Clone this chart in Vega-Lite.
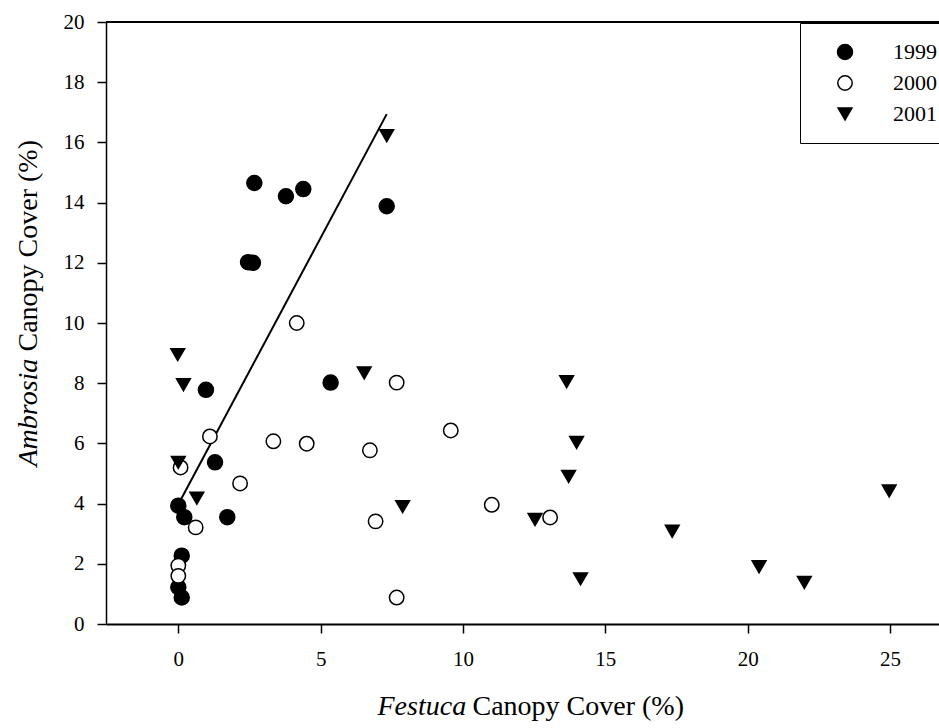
{
  "$schema": "https://vega.github.io/schema/vega-lite/v6.json",
  "width": 833,
  "height": 602,
  "autosize": {"type": "none"},
  "padding": {"left": 106, "top": 22, "right": 0, "bottom": 104},
  "background": "white",
  "config": {"view": {"stroke": null}, "font": "Liberation Serif"},
  "resolve": {"axis": {"x": "independent", "y": "independent"}},
  "layer": [
    {
      "data": {"values": [{"v": 20}]},
      "mark": {"type": "rule", "color": "black", "strokeWidth": 2},
      "encoding": {
        "y": {"field": "v", "type": "quantitative", "scale": {"domain": [0, 20], "nice": false}, "axis": null}
      }
    },
    {
      "data": {"values": [{"festuca": 0.1, "ambrosia": 4.15}, {"festuca": 7.32, "ambrosia": 16.94}]},
      "mark": {"type": "line", "color": "black", "strokeWidth": 2},
      "encoding": {
        "x": {"field": "festuca", "type": "quantitative", "scale": {"domain": [-2.54, 26.72], "nice": false, "zero": false},
          "axis": {"orient": "bottom", "labels": false, "ticks": false, "domain": false, "grid": false,
            "title": "Festuca", "titleFont": "Liberation Serif", "titleFontSize": 28, "titleFontWeight": "normal", "titleFontStyle": "italic", "titleColor": "black",
            "titleAlign": "left", "titleBaseline": "alphabetic", "titleX": 271, "titleY": 90}},
        "y": {"field": "ambrosia", "type": "quantitative", "scale": {"domain": [0, 20], "nice": false},
          "axis": {"orient": "left", "labels": false, "ticks": false, "domain": false, "grid": false,
            "title": "Ambrosia", "titleFont": "Liberation Serif", "titleFontSize": 28, "titleFontWeight": "normal", "titleFontStyle": "italic", "titleColor": "black",
            "titleAngle": -90, "titleAlign": "left", "titleBaseline": "alphabetic", "titleX": -70, "titleY": 444}}
      }
    },
    {
      "data": {"values": [
        {"year": "1999", "festuca": 2.67, "ambrosia": 14.65},
        {"year": "1999", "festuca": 3.78, "ambrosia": 14.21},
        {"year": "1999", "festuca": 4.39, "ambrosia": 14.45},
        {"year": "1999", "festuca": 7.32, "ambrosia": 13.88},
        {"year": "1999", "festuca": 2.45, "ambrosia": 12.02},
        {"year": "1999", "festuca": 2.62, "ambrosia": 12.0},
        {"year": "1999", "festuca": 0.97, "ambrosia": 7.78},
        {"year": "1999", "festuca": 5.35, "ambrosia": 8.02},
        {"year": "1999", "festuca": 1.29, "ambrosia": 5.37},
        {"year": "1999", "festuca": 0.0, "ambrosia": 3.93},
        {"year": "1999", "festuca": 0.21, "ambrosia": 3.55},
        {"year": "1999", "festuca": 1.72, "ambrosia": 3.55},
        {"year": "1999", "festuca": 0.12, "ambrosia": 2.27},
        {"year": "1999", "festuca": 0.0, "ambrosia": 1.22},
        {"year": "1999", "festuca": 0.12, "ambrosia": 0.88},
        {"year": "2000", "festuca": 4.16, "ambrosia": 10.0},
        {"year": "2000", "festuca": 7.67, "ambrosia": 8.02},
        {"year": "2000", "festuca": 1.11, "ambrosia": 6.23},
        {"year": "2000", "festuca": 3.34, "ambrosia": 6.07},
        {"year": "2000", "festuca": 4.51, "ambrosia": 5.99},
        {"year": "2000", "festuca": 6.73, "ambrosia": 5.77},
        {"year": "2000", "festuca": 9.57, "ambrosia": 6.43},
        {"year": "2000", "festuca": 0.08, "ambrosia": 5.2},
        {"year": "2000", "festuca": 2.17, "ambrosia": 4.67},
        {"year": "2000", "festuca": 0.61, "ambrosia": 3.21},
        {"year": "2000", "festuca": 6.93, "ambrosia": 3.41},
        {"year": "2000", "festuca": 0.0, "ambrosia": 1.94},
        {"year": "2000", "festuca": 0.0, "ambrosia": 1.6},
        {"year": "2000", "festuca": 7.67, "ambrosia": 0.88},
        {"year": "2000", "festuca": 11.01, "ambrosia": 3.96},
        {"year": "2000", "festuca": 13.06, "ambrosia": 3.54},
        {"year": "2001", "festuca": -0.02, "ambrosia": 8.95},
        {"year": "2001", "festuca": 0.18, "ambrosia": 7.95},
        {"year": "2001", "festuca": 0.0, "ambrosia": 5.37},
        {"year": "2001", "festuca": 0.65, "ambrosia": 4.18},
        {"year": "2001", "festuca": 6.53, "ambrosia": 8.34},
        {"year": "2001", "festuca": 7.88, "ambrosia": 3.9},
        {"year": "2001", "festuca": 7.32, "ambrosia": 16.22},
        {"year": "2001", "festuca": 13.64, "ambrosia": 8.05},
        {"year": "2001", "festuca": 13.99, "ambrosia": 6.03},
        {"year": "2001", "festuca": 13.71, "ambrosia": 4.9},
        {"year": "2001", "festuca": 12.53, "ambrosia": 3.47},
        {"year": "2001", "festuca": 17.35, "ambrosia": 3.08},
        {"year": "2001", "festuca": 14.13, "ambrosia": 1.5},
        {"year": "2001", "festuca": 24.97, "ambrosia": 4.42},
        {"year": "2001", "festuca": 20.4, "ambrosia": 1.9},
        {"year": "2001", "festuca": 21.99, "ambrosia": 1.38}
      ]},
      "mark": {"type": "point", "filled": true, "opacity": 1, "strokeWidth": 1.5},
      "encoding": {
        "x": {"field": "festuca", "type": "quantitative", "scale": {"domain": [-2.54, 26.72], "nice": false, "zero": false},
          "axis": {"orient": "bottom", "values": [0, 5, 10, 15, 20, 25], "grid": false,
            "title": "Canopy Cover (%)", "titleFont": "Liberation Serif", "titleFontSize": 28, "titleFontWeight": "normal", "titleColor": "black",
            "titleAlign": "left", "titleBaseline": "alphabetic", "titleX": 366, "titleY": 90,
            "labelFont": "Liberation Serif", "labelFontSize": 21, "labelColor": "black", "labelPadding": 15, "labelFlush": false,
            "tickSize": 9, "tickColor": "black", "tickWidth": 1.5, "domainColor": "black", "domainWidth": 2}},
        "y": {"field": "ambrosia", "type": "quantitative", "scale": {"domain": [0, 20], "nice": false},
          "axis": {"orient": "left", "values": [0, 2, 4, 6, 8, 10, 12, 14, 16, 18, 20], "grid": false,
            "title": "Canopy Cover (%)", "titleFont": "Liberation Serif", "titleFontSize": 28, "titleFontWeight": "normal", "titleColor": "black",
            "titleAngle": -90, "titleAlign": "left", "titleBaseline": "alphabetic", "titleX": -70, "titleY": 329,
            "labelFont": "Liberation Serif", "labelFontSize": 21, "labelColor": "black", "labelPadding": 13, "labelFlush": false,
            "tickSize": 9, "tickColor": "black", "tickWidth": 1.5, "domainColor": "black", "domainWidth": 1.5}},
        "stroke": {"value": "black"},
        "shape": {"field": "year", "type": "nominal",
          "scale": {"domain": ["1999", "2000", "2001"], "range": ["circle", "circle", "triangle-down"]},
          "legend": {"title": null, "orient": "none", "legendX": 694, "legendY": 1, "strokeColor": "black", "fillColor": "white", "padding": 18,
            "symbolOffset": 16, "labelOffset": 37, "rowPadding": 9, "labelFont": "Liberation Serif", "labelFontSize": 22, "labelColor": "black", "symbolStrokeWidth": 1.5}},
        "fill": {"field": "year", "type": "nominal",
          "scale": {"domain": ["1999", "2000", "2001"], "range": ["black", "white", "black"]},
          "legend": {"title": null, "orient": "none", "legendX": 694, "legendY": 1, "strokeColor": "black", "fillColor": "white", "padding": 18,
            "symbolOffset": 16, "labelOffset": 37, "rowPadding": 9, "labelFont": "Liberation Serif", "labelFontSize": 22, "labelColor": "black", "symbolStrokeWidth": 1.5}},
        "size": {"field": "year", "type": "nominal",
          "scale": {"domain": ["1999", "2000", "2001"], "range": [225, 190, 256]},
          "legend": {"title": null, "orient": "none", "legendX": 694, "legendY": 1, "strokeColor": "black", "fillColor": "white", "padding": 18,
            "symbolOffset": 16, "labelOffset": 37, "rowPadding": 9, "labelFont": "Liberation Serif", "labelFontSize": 22, "labelColor": "black", "symbolStrokeWidth": 1.5}}
      }
    }
  ]
}
